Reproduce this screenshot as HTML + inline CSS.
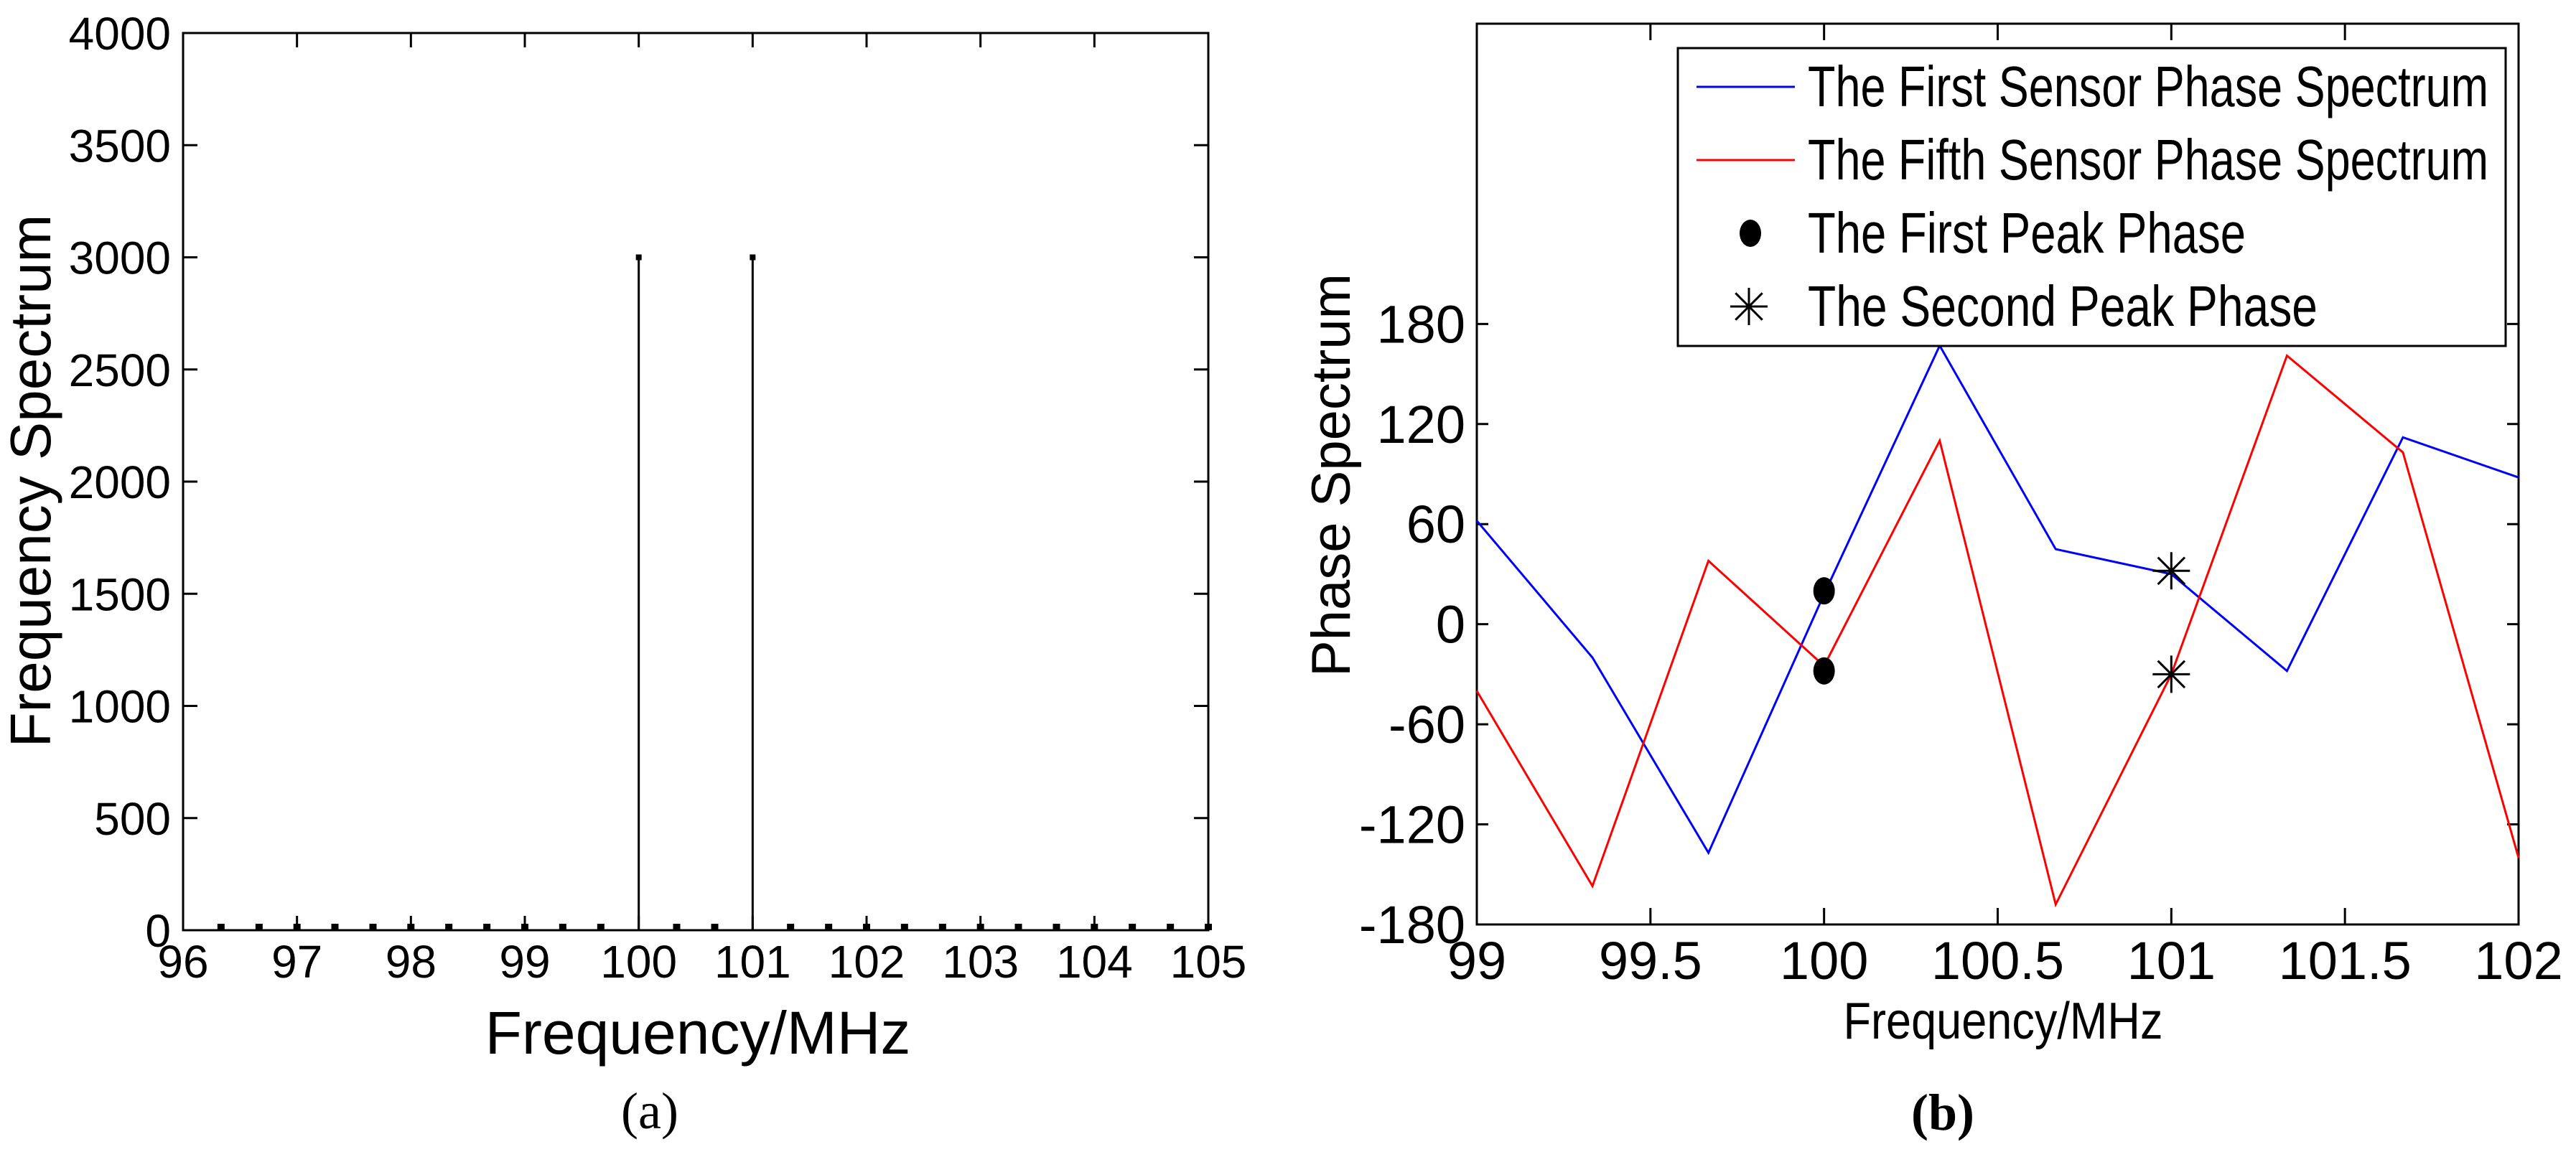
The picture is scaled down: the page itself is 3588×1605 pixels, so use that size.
<!DOCTYPE html>
<html><head><meta charset="utf-8"><style>
html,body{margin:0;padding:0;background:#fff;}
svg{display:block;}
text{font-family:"Liberation Sans",Arial,sans-serif;fill:#000;}
</style></head>
<body>
<svg id="fig" width="3588" height="1605" viewBox="0 0 3588 1605" xmlns="http://www.w3.org/2000/svg">
<g id="chartA"></g>
<g id="chartB"></g>
</svg>
<script>
// ---- Chart (a) data ----
const aXTicks = [96,97,98,99,100,101,102,103,104,105];
const aYTicks = [0,500,1000,1500,2000,2500,3000,3500,4000];
const aStemX = [100,101];
const aStemY = [3000,3000];
const aBaseX = [96.333,96.667,97,97.333,97.667,98,98.333,98.667,99,99.333,99.667,100.333,100.667,101.333,101.667,102,102.333,102.667,103,103.333,103.667,104,104.333,104.667,105];
// ---- Chart (b) data ----
const bX = [99,99.333,99.667,100,100.333,100.667,101,101.333,101.667,102];
const bBlue = [62,-20,-137,18,167,45,30,-28,112,88];
const bRed = [-40,-157,38,-25,110,-168,-30,161,103,-140];
const bDotX = [100,100];
const bDotY = [20,-28];
const bStarX = [101,101];
const bStarY = [32,-30];
const bXTicks = [99,99.5,100,100.5,101,101.5,102];
const bXTickLabels = ["99","99.5","100","100.5","101","101.5","102"];
const bYTicks = [-180,-120,-60,0,60,120,180];
const bLegend = ["The First Sensor Phase Spectrum","The Fifth Sensor Phase Spectrum","The First Peak Phase","The Second Peak Phase"];

const NS="http://www.w3.org/2000/svg";
function mk(parent,tag,attrs,txt){const e=document.createElementNS(NS,tag);for(const k in attrs)e.setAttribute(k,attrs[k]);if(txt!==undefined)e.textContent=txt;parent.appendChild(e);return e;}

// ===== Chart A =====
(function(){
const g=document.getElementById('chartA');
const L=255,R=1683,T=46,B=1296;
const sx=v=>L+(v-96)/(105-96)*(R-L);
const sy=v=>B-(v-0)/(4000-0)*(B-T);
const frame=mk(g,'rect',{x:L,y:T,width:R-L,height:B-T,fill:'none',stroke:'#000','stroke-width':3});


aXTicks.forEach(v=>{
  const t=mk(g,'path',{d:`M${sx(v)},${B}v-20M${sx(v)},${T}v20`,stroke:'#000','stroke-width':3});
  
  
  const l=mk(g,'text',{x:sx(v),y:1362,'font-size':64,'text-anchor':'middle'},String(v));
  
  
});
aYTicks.forEach(v=>{
  const t=mk(g,'path',{d:`M${L},${sy(v)}h20M${R},${sy(v)}h-20`,stroke:'#000','stroke-width':3});
  
  
  const l=mk(g,'text',{x:238,y:sy(v)+23,'font-size':64,'text-anchor':'end'},String(v));
  
  
});
aBaseX.forEach(v=>{
  const d=mk(g,'rect',{x:sx(v)-5,y:B-9,width:10,height:9,fill:'#000'});
  
  
});
aStemX.forEach((v,i)=>{
  const s=mk(g,'line',{x1:sx(v),y1:B,x2:sx(v),y2:sy(aStemY[i]),stroke:'#000','stroke-width':3});
  
  
  const m=mk(g,'rect',{x:sx(v)-4,y:sy(aStemY[i])-4,width:8,height:8,fill:'#000'});
  
  
});
const yt=mk(g,'text',{x:0,y:0,'font-size':80,'text-anchor':'middle',transform:'translate(70,670) rotate(-90)'},'Frequency Spectrum');


const xt=mk(g,'text',{x:972,y:1468,'font-size':84,'text-anchor':'middle'},'Frequency/MHz');


const cap=mk(g,'text',{x:905,y:1572,'font-size':72,'text-anchor':'middle'},'(a)');


cap.style.fontFamily='"Liberation Serif",serif';
})();

// ===== Chart B =====
(function(){
const g=document.getElementById('chartB');
const L=2057,R=3508,T=33,B=1288;
const sx=v=>L+(v-99)/(102-99)*(R-L);
const sy=v=>B-(v+180)/(360+180)*(B-T);
const frame=mk(g,'rect',{x:L,y:T,width:R-L,height:B-T,fill:'none',stroke:'#000','stroke-width':3});


bXTicks.forEach((v,i)=>{
  const t=mk(g,'path',{d:`M${sx(v)},${B}v-23M${sx(v)},${T}v23`,stroke:'#000','stroke-width':3});
  
  
  const l=mk(g,'text',{x:sx(v),y:1364,'font-size':74,'text-anchor':'middle'},bXTickLabels[i]);
  
  
});
bYTicks.forEach(v=>{
  const t=mk(g,'path',{d:`M${L},${sy(v)}h16M${R},${sy(v)}h-16`,stroke:'#000','stroke-width':3});
  
  
  const l=mk(g,'text',{x:2041,y:sy(v)+26,'font-size':74,'text-anchor':'end'},String(v));
  
  
});
const pts=a=>bX.map((x,i)=>sx(x)+','+sy(a[i])).join(' ');
const blue=mk(g,'polyline',{points:pts(bBlue),fill:'none',stroke:'#0000ff','stroke-width':3});


const red=mk(g,'polyline',{points:pts(bRed),fill:'none',stroke:'#ff0000','stroke-width':3});


function star(cx,cy,r,name){
  const s=mk(g,'path',{d:`M${cx-r},${cy}h${2*r}M${cx},${cy-r}v${2*r}M${cx-r*0.72},${cy-r*0.72}l${1.44*r},${1.44*r}M${cx-r*0.72},${cy+r*0.72}l${1.44*r},${-1.44*r}`,stroke:'#000','stroke-width':3,fill:'none'});
  
  
}
bDotX.forEach((x,i)=>{
  const d=mk(g,'ellipse',{cx:sx(x),cy:sy(bDotY[i]),rx:15,ry:19,fill:'#000'});
  
  
});
bStarX.forEach((x,i)=>star(sx(x),sy(bStarY[i]),26,'second-peak-phase-point'));
const lg=mk(g,'g',{});


const lb=mk(lg,'rect',{x:2337,y:67,width:1153,height:415,fill:'#fff',stroke:'#000','stroke-width':3});


const rowY=[121,223,325,427];
const widths=[948,948,610,710];
bLegend.forEach((t,i)=>{
  const y=rowY[i];
  if(i===0||i===1){
    const ln=mk(lg,'line',{x1:2363,y1:y,x2:2500,y2:y,stroke:i===0?'#0000ff':'#ff0000','stroke-width':3});
    
    
  } else if(i===2){
    const d=mk(lg,'ellipse',{cx:2438,cy:y,rx:15,ry:19,fill:'#000'});
    
    
  } else {
    const r=26,cx=2436,cy=y;
    const s=mk(lg,'path',{d:`M${cx-r},${cy}h${2*r}M${cx},${cy-r}v${2*r}M${cx-r*0.72},${cy-r*0.72}l${1.44*r},${1.44*r}M${cx-r*0.72},${cy+r*0.72}l${1.44*r},${-1.44*r}`,stroke:'#000','stroke-width':3});
    
    
  }
  const tx=mk(lg,'text',{x:2518,y:y+27,'font-size':80,textLength:widths[i],lengthAdjust:'spacingAndGlyphs'},t);
  
  
});
const yt=mk(g,'text',{x:0,y:0,'font-size':76,'text-anchor':'middle',transform:'translate(1880,662) rotate(-90)'},'Phase Spectrum');


const xt=mk(g,'text',{x:2790,y:1447,'font-size':72,'text-anchor':'middle',textLength:445,lengthAdjust:'spacingAndGlyphs'},'Frequency/MHz');


const cap=mk(g,'text',{x:2706,y:1574,'font-size':72,'text-anchor':'middle','font-weight':'bold'},'(b)');


cap.style.fontFamily='"Liberation Serif",serif';
})();
</script>
</body></html>
